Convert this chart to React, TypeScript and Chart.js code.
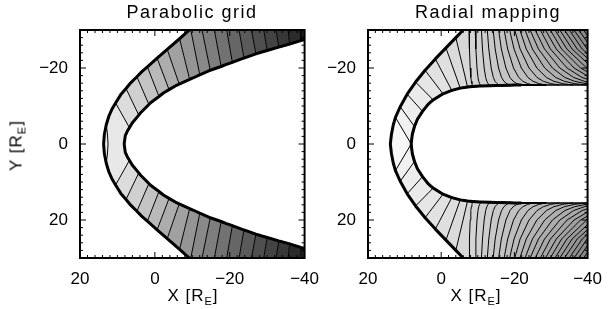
import React, { useEffect, useRef } from "react";
import { Chart, registerables } from "chart.js";

Chart.register(...registerables);

// ---------------- axes ----------------
const X_MIN = -40;
const X_MAX = 20;
const Y_MIN = -30;
const Y_MAX = 30;
const X_TICKS = [20, 0, -20, -40];
const Y_TICKS = [-20, 0, 20];
const MINOR_STEP = 2;

const TITLES = ["Parabolic grid", "Radial mapping"];

// ------------- Panel 1: parabolic grid (upper half Y<=0, figure is mirror-symmetric) -------------
const PG_OUTER_X = [13.7, 13.5, 13.0, 12.3, 11.4, 9.1, 6.45, 3.4, -9.2];
const PG_OUTER_Y = [0, -2.5, -5.0, -7.3, -9.3, -13.0, -16.1, -19.1, -30];
const PG_INNER_X = [8.2, 7.9, 7.37, 6.05, 3.86, 1.23, -2.28, -5.79, -10.18, -14.56, -18.95, -23.33, -28.6, -33.86, -40];
const PG_INNER_Y = [0, -2.2, -3.33, -5.53, -8.16, -10.79, -13.42, -15.44, -17.37, -19.3, -20.88, -22.46, -24.2, -25.7, -27.46];
const PG_LINE_OUT_X = [10.5, 7.7, 4.8, 2.0, -0.6, -3.3, -6.6, -9.6, -12.6, -15.9, -19.2, -22.5, -25.8, -29.1, -32.4, -35.6, -38.8, -42.0];
const PG_LINE_OUT_Y = [-10.8, -14.6, -17.7, -20.3, -22.6, -24.9, -27.7, -30, -30, -30, -30, -30, -30, -30, -30, -30, -30, -30];
const PG_LINE_IN_X = [6.8, 4.3, 1.6, -1.1, -3.8, -6.5, -9.3, -12.0, -14.8, -17.7, -20.7, -23.8, -27.0, -30.0, -33.1, -36.0, -39.0, -42.0];
const PG_LINE_IN_Y = [-4.3, -7.6, -10.4, -12.5, -14.3, -15.75, -17.0, -18.2, -19.4, -20.4, -21.5, -22.6, -23.7, -24.6, -25.5, -26.3, -27.2, -28.0];
const PG_NOSE_X = [13.0, 12.7, 12.5];
const PG_NOSE_Y = [-5.0, -3.0, 0];

// ------------- Panel 2: radial mapping (upper half) -------------
const RM_OUTER_X = [13.9, 13.6, 13.1, -6.0];
const RM_OUTER_Y = [0, -2.5, -5.0, -30];
const RM_INNER_X = [7.9, 6.5, 3.6, -10.5, -15.0, -20.0];
const RM_INNER_Y = [-2.5, -6.5, -10.4, -15.25, -15.4, -15.5];
const RM_FLANK_OUT_X = [12.5, 11.2, 9.3, 7.0, 4.4, 1.6, -1.3, -4.0];
const RM_FLANK_OUT_Y = [-7.0, -9.8, -13.1, -16.3, -19.4, -22.4, -25.3, -28.0];
const RM_FLANK_IN_X = [8.2, 7.3, 5.1, 2.2, -0.5, -2.9, -5.2, -7.2];
const RM_FLANK_IN_Y = [0, -4.6, -8.6, -11.6, -13.2, -14.1, -14.7, -15.0];
// tail lines: X read at these Y levels, then the end point on the inner boundary
const RM_TAIL_LEVELS = [-30, -25, -20, -17.5, -16.5, -15.9];
const RM_TAIL_X30 = [-7.6, -9.3, -11.0, -12.6, -14.2, -15.7, -17.2, -18.7, -20.1, -21.5, -22.9, -24.3, -25.7, -27.1, -28.5, -29.8, -31.1, -32.4, -33.7, -35.0, -36.3, -37.6, -38.9, -40.2, -41.5];
const RM_TAIL_X25 = [-7.72, -9.48, -11.28, -13.0, -14.75, -16.44, -18.16, -19.9, -21.56, -23.24, -24.92, -26.58, -28.22, -29.84, -31.43, -32.9, -34.34, -35.76, -37.16, -38.53, -39.88, -41.2, -42.5, -43.8, -45.1];
const RM_TAIL_X20 = [-7.92, -9.78, -11.74, -13.66, -15.67, -17.68, -19.76, -21.9, -24.0, -26.14, -28.28, -30.38, -32.42, -34.4, -36.31, -38.06, -39.74, -41.36, -42.92, -44.41, -45.84, -47.2, -48.5, -49.8, -51.1];
const RM_TAIL_X175 = [-8.1, -10.05, -12.15, -14.25, -16.5, -18.8, -21.2, -23.7, -26.2, -28.75, -31.3, -33.8, -36.2, -38.5, -40.7, -42.7, -44.6, -46.4, -48.1, -49.7, -51.2, -52.6, -53.9, -55.2, -56.5];
const RM_TAIL_X165 = [-8.24, -10.26, -12.47, -14.71, -17.14, -19.67, -22.32, -25.1, -27.9, -30.78, -33.65, -36.46, -39.14, -41.69, -44.12, -46.31, -48.38, -50.32, -52.13, -53.82, -55.37, -56.8, -58.1, -59.4, -60.7];
const RM_TAIL_X159 = [-8.4, -10.5, -12.84, -15.24, -17.88, -20.66, -23.6, -26.7, -29.86, -33.1, -36.34, -39.5, -42.5, -45.34, -48.02, -50.44, -52.7, -54.8, -56.74, -58.52, -60.14, -61.6, -62.9, -64.2, -65.5];
const RM_TAIL_END_X = [-8.6, -10.8, -13.3, -15.9, -18.8, -21.9, -25.2, -28.7, -32.3, -36.0, -39.7, -43.3, -46.7, -49.9, -52.9, -55.6, -58.1, -60.4, -62.5, -64.4, -66.1, -67.6, -68.9, -70.2, -71.5];
const RM_TAIL_END_Y = [-15.11, -15.26, -15.34, -15.42, -15.47, -15.5, -15.5, -15.5, -15.5, -15.5, -15.5, -15.5, -15.5, -15.5, -15.5, -15.5, -15.5, -15.5, -15.5, -15.5, -15.5, -15.5, -15.5, -15.5, -15.5];

const FONT = '"Liberation Sans", Arial, Helvetica, sans-serif';

type P = { x: number; y: number; edge?: boolean };

const toPts = (xs: number[], ys: number[]): P[] => xs.map((x, i) => ({ x, y: ys[i] }));

function buildPanel(outerShape: P[], innerShape: P[], upLinesIn: P[][]) {
  const outerKey = (p: P) => -p.y * 1000 - p.x;
  const innerKey = (p: P) => -p.x;
  const upOuter = outerShape.slice();
  const upInner = innerShape.slice();
  const upLines = upLinesIn.map((l) => l.slice());
  for (const l of upLines) {
    const o = l[0];
    const i = l[l.length - 1];
    if (o.y <= Y_MIN) o.edge = true;
    const oe = upOuter.find((p) => p.x === o.x && p.y === o.y);
    if (oe) l[0] = oe; else upOuter.push(o);
    const ie = upInner.find((p) => p.x === i.x && p.y === i.y);
    if (ie) l[l.length - 1] = ie; else upInner.push(i);
  }
  upOuter.sort((a, b) => outerKey(a) - outerKey(b));
  upInner.sort((a, b) => innerKey(a) - innerKey(b));
  const mir = new Map<P, P>();
  const m = (p: P): P => {
    if (p.y === 0) return p;
    let q = mir.get(p);
    if (!q) {
      q = { x: p.x, y: -p.y, edge: p.edge };
      mir.set(p, q);
    }
    return q;
  };
  const full = (arr: P[]) => arr.filter((p) => p.y !== 0).map(m).reverse().concat(arr);
  const outer = full(upOuter);
  const inner = full(upInner);
  const n = upLines.length;
  const lines = upLines.map((l) => l.map(m)).reverse().concat(upLines);
  const cells: { poly: P[]; k: number }[] = [];
  for (let j = 0; j < lines.length - 1; j++) {
    const A = lines[j];
    const B = lines[j + 1];
    const oa = outer.indexOf(A[0]);
    const ob = outer.indexOf(B[0]);
    const ia = inner.indexOf(A[A.length - 1]);
    const ib = inner.indexOf(B[B.length - 1]);
    const poly: P[] = A.slice();
    for (let t = ia + 1; t < ib; t++) poly.push(inner[t]);
    for (let t = B.length - 1; t >= 0; t--) poly.push(B[t]);
    for (let t = ob - 1; t > oa; t--) poly.push(outer[t]);
    const k = j === n - 1 ? 0 : j >= n ? j - n + 1 : n - 1 - j;
    cells.push({ poly, k });
  }
  return { outer, inner, lines, cells };
}

function panelData(kind: "pg" | "rm") {
  if (kind === "pg") {
    const lines = PG_LINE_OUT_X.map((_, i) => [
      { x: PG_LINE_OUT_X[i], y: PG_LINE_OUT_Y[i] },
      { x: PG_LINE_IN_X[i], y: PG_LINE_IN_Y[i] },
    ]);
    return buildPanel(toPts(PG_OUTER_X, PG_OUTER_Y), toPts(PG_INNER_X, PG_INNER_Y), lines);
  }
  const flank = RM_FLANK_OUT_X.map((_, i) => [
    { x: RM_FLANK_OUT_X[i], y: RM_FLANK_OUT_Y[i] },
    { x: RM_FLANK_IN_X[i], y: RM_FLANK_IN_Y[i] },
  ]);
  const cols = [RM_TAIL_X30, RM_TAIL_X25, RM_TAIL_X20, RM_TAIL_X175, RM_TAIL_X165, RM_TAIL_X159];
  const tail = RM_TAIL_X30.map((_, i) => {
    const pts: P[] = cols.map((c, j) => ({ x: c[i], y: RM_TAIL_LEVELS[j] }));
    pts.push({ x: RM_TAIL_END_X[i], y: RM_TAIL_END_Y[i] });
    return pts;
  });
  return buildPanel(toPts(RM_OUTER_X, RM_OUTER_Y), toPts(RM_INNER_X, RM_INNER_Y), flank.concat(tail));
}

function gray(kind: "pg" | "rm", k: number) {
  let g: number;
  if (kind === "pg") g = k === 0 ? 232 : 220 - 11.8 * (k - 1);
  else g = k === 0 ? 247 : 241 - 3.65 * (k - 1);
  g = Math.max(0, Math.min(255, Math.round(g)));
  return `rgb(${g},${g},${g})`;
}

const fmt = (v: number) => (v < 0 ? "\u2212" + Math.abs(v) : String(v));

const framePlugin = {
  id: "frameTicks",
  afterDatasetsDraw(chart: any) {
    const { ctx, chartArea: a, scales } = chart;
    const xs = scales.x;
    const ys = scales.y;
    ctx.save();
    ctx.strokeStyle = "#000";
    ctx.lineWidth = 1;
    ctx.beginPath();
    for (let v = X_MIN; v <= X_MAX; v += MINOR_STEP) {
      const px = xs.getPixelForValue(v);
      const len = X_TICKS.includes(v) ? 6 : 3;
      ctx.moveTo(px, a.bottom);
      ctx.lineTo(px, a.bottom - len);
      ctx.moveTo(px, a.top);
      ctx.lineTo(px, a.top + len);
    }
    for (let v = Y_MIN; v <= Y_MAX; v += MINOR_STEP) {
      const py = ys.getPixelForValue(v);
      const len = Y_TICKS.includes(v) ? 6 : 3;
      ctx.moveTo(a.left, py);
      ctx.lineTo(a.left + len, py);
      ctx.moveTo(a.right, py);
      ctx.lineTo(a.right - len, py);
    }
    ctx.stroke();
    ctx.lineWidth = 2;
    ctx.strokeRect(a.left, a.top, a.right - a.left, a.bottom - a.top);
    ctx.restore();
  },
};

function makeConfig(kind: "pg" | "rm", yAxisWidth: number, rightPad: number) {
  const panel = panelData(kind);
  const base = { pointRadius: 0, tension: 0, clip: 0, spanGaps: true };
  const datasets: any[] = [];
  panel.cells.forEach((c) =>
    datasets.push({
      ...base,
      data: c.poly.map((p) => ({ x: p.x, y: p.y })),
      fill: "shape",
      backgroundColor: gray(kind, c.k),
      borderColor: "rgba(0,0,0,0)",
      borderWidth: 0,
      order: 4,
    })
  );
  panel.lines.forEach((l) =>
    datasets.push({
      ...base,
      data: l.map((p) => ({ x: p.x, y: p.y })),
      fill: false,
      borderColor: "#000",
      borderWidth: 1,
      order: 3,
    })
  );
  const thick = (pts: P[], w: number) => ({
    ...base,
    data: pts.map((p) => ({ x: p.x, y: p.y })),
    fill: false,
    borderColor: "#000",
    borderWidth: w,
    borderJoinStyle: "round",
    borderCapStyle: "butt",
    order: 1,
  });
  datasets.push(thick(panel.outer.filter((p) => !p.edge), 3));
  if (kind === "pg") {
    datasets.push(thick(panel.inner, 3));
    const up = toPts(PG_NOSE_X, PG_NOSE_Y);
    const nose = up.concat(up.filter((p) => p.y !== 0).map((p) => ({ x: p.x, y: -p.y })).reverse());
    datasets.push({ ...thick(nose, 1), order: 2 });
  } else {
    datasets.push({ ...thick(panel.inner, 1.5), order: 2 });
    datasets.push({ ...thick(panel.inner.filter((p) => p.x >= -30), 2), order: 2 });
    datasets.push(thick(panel.inner.filter((p) => p.x >= -22), 3));
  }

  return {
    type: "line",
    data: { datasets },
    options: {
      responsive: false,
      maintainAspectRatio: false,
      animation: false,
      devicePixelRatio: 1,
      events: [],
      layout: { padding: { top: 30, right: rightPad, left: 0, bottom: 0 } },
      plugins: { legend: { display: false }, tooltip: { enabled: false }, title: { display: false } },
      elements: { point: { radius: 0 }, line: { tension: 0 } },
      scales: {
        x: {
          type: "linear",
          min: X_MIN,
          max: X_MAX,
          reverse: true,
          afterBuildTicks: (s: any) => {
            s.ticks = X_TICKS.map((v) => ({ value: v }));
          },
          afterFit: (s: any) => {
            s.height = 51;
          },
          grid: { display: false, drawTicks: false },
          border: { display: false },
          ticks: {
            color: "#000",
            font: { family: FONT, size: 17 },
            padding: 11,
            autoSkip: false,
            maxRotation: 0,
            callback: (v: any) => fmt(Number(v)),
          },
        },
        y: {
          type: "linear",
          min: Y_MIN,
          max: Y_MAX,
          reverse: true,
          afterBuildTicks: (s: any) => {
            s.ticks = Y_TICKS.map((v) => ({ value: v }));
          },
          afterFit: (s: any) => {
            s.width = yAxisWidth;
          },
          grid: { display: false, drawTicks: false },
          border: { display: false },
          ticks: {
            color: "#000",
            font: { family: FONT, size: 17 },
            padding: 12,
            autoSkip: false,
            callback: (v: any) => fmt(Number(v)),
          },
        },
      },
    },
    plugins: [framePlugin],
  };
}

function PanelCanvas(props: { kind: "pg" | "rm"; left: number; width: number; yAxisWidth: number; rightPad: number }) {
  const ref = useRef<HTMLCanvasElement>(null);
  useEffect(() => {
    if (!ref.current) return;
    const chart = new Chart(ref.current, makeConfig(props.kind, props.yAxisWidth, props.rightPad) as any);
    return () => chart.destroy();
  }, []);
  return (
    <canvas
      ref={ref}
      width={props.width}
      height={309}
      style={{ position: "absolute", left: props.left, top: 0, width: props.width, height: 309 }}
    />
  );
}

const textBase: React.CSSProperties = {
  position: "absolute",
  fontFamily: FONT,
  fontSize: 17,
  lineHeight: "20px",
  color: "#000",
  whiteSpace: "nowrap",
  textAlign: "center",
};

function AxisLabel({ name }: { name: string }) {
  return (
    <span>
      {name} [R
      <span style={{ fontSize: 11, position: "relative", top: 4 }}>E</span>]
    </span>
  );
}

export default function App() {
  return (
    <div style={{ position: "fixed", left: 0, top: 0, width: 613, height: 309, background: "#fff", overflow: "hidden" }}>
      <PanelCanvas kind="pg" left={0} width={330} yAxisWidth={80} rightPad={22} />
      <PanelCanvas kind="rm" left={300} width={313} yAxisWidth={68} rightPad={17} />
      <div style={{ ...textBase, fontSize: 18, left: 192 - 150, width: 300, top: 2, letterSpacing: "1.5px" }}>{TITLES[0]}</div>
      <div style={{ ...textBase, fontSize: 18, left: 488 - 150, width: 300, top: 2, letterSpacing: "1.5px" }}>{TITLES[1]}</div>
      <div style={{ ...textBase, left: 193 - 60, width: 120, top: 286, letterSpacing: "1px" }}>
        <AxisLabel name="X" />
      </div>
      <div style={{ ...textBase, left: 476 - 60, width: 120, top: 286, letterSpacing: "1px" }}>
        <AxisLabel name="X" />
      </div>
      <div
        style={{
          ...textBase,
          left: 17 - 60,
          width: 120,
          top: 145 - 10,
          letterSpacing: "1px",
          transform: "rotate(-90deg)",
        }}
      >
        <AxisLabel name="Y" />
      </div>
    </div>
  );
}
